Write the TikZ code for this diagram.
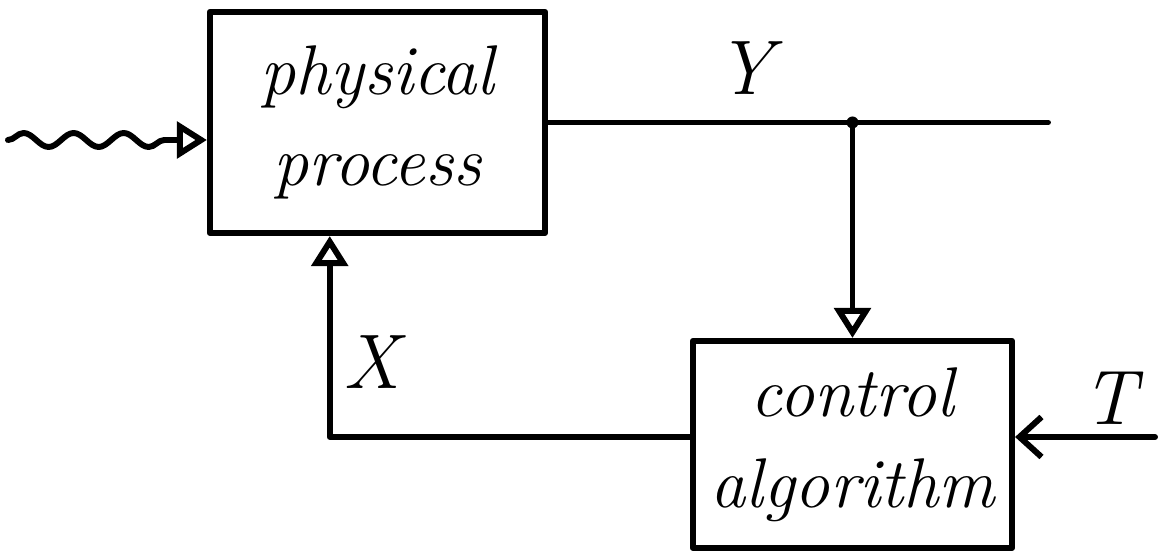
\documentclass[tikz,border=0pt]{standalone}
\usetikzlibrary{arrows.meta,decorations.pathmorphing,calc}
\begin{document}
\begin{tikzpicture}[x=0.01cm,y=-0.01cm,
    line width=1.7pt, line cap=round, line join=round,
    blockbox/.style={draw, rectangle, align=center, inner sep=0pt,
      font=\fontsize{20}{26}\selectfont\itshape},
    sigtext/.style={font=\fontsize{22}{26}\selectfont\itshape},
    opentip/.style={-{Triangle[open,length=0.3cm,width=0.36cm,line width=1.7pt]}},
    barbtip/.style={-{Straight Barb[length=0.22cm,width=0.4cm,line width=1.7pt]}},
    wave/.style={decorate, decoration={snake, amplitude=0.07cm,
      segment length=0.5cm, post length=0.35cm}}]
  \useasboundingbox (0,0) rectangle (1162,552);

  % blocks
  \node[blockbox, minimum width=3.35cm, minimum height=2.21cm]
    (pp) at (377.5,122.5) {physical\\process};
  \node[blockbox, minimum width=3.19cm, minimum height=2.07cm]
    (ca) at (852.5,444.5) {control\\algorithm};

  % free ends of the signal lines
  \coordinate (win) at (8,140);
  \coordinate (yend) at (1048,122.5);
  \coordinate (tin) at (1155,437);
  \coordinate (j) at (ca.north |- pp.east);
  \coordinate (xin) at ($(pp.south west)!0.36!(pp.south east)$);

  % disturbance input
  \draw[wave, opentip] (win) -- (pp.west |- win);

  % output Y and its feedback branch
  \draw (pp.east) -- (yend);
  \fill (j) circle (0.06cm);
  \draw[opentip] (j) -- (ca.north);

  % control output X back into the process
  \draw[opentip] (ca.west |- tin) -| (xin);

  % setpoint T
  \draw[barbtip] (tin) -- (ca.east |- tin);

  % signal labels
  \node[sigtext] (ly) at (745,68) {Y};
  \node[sigtext] (lx) at (372,362) {X};
  \node[sigtext] (lt) at (1110,398) {T};
\end{tikzpicture}
\end{document}
